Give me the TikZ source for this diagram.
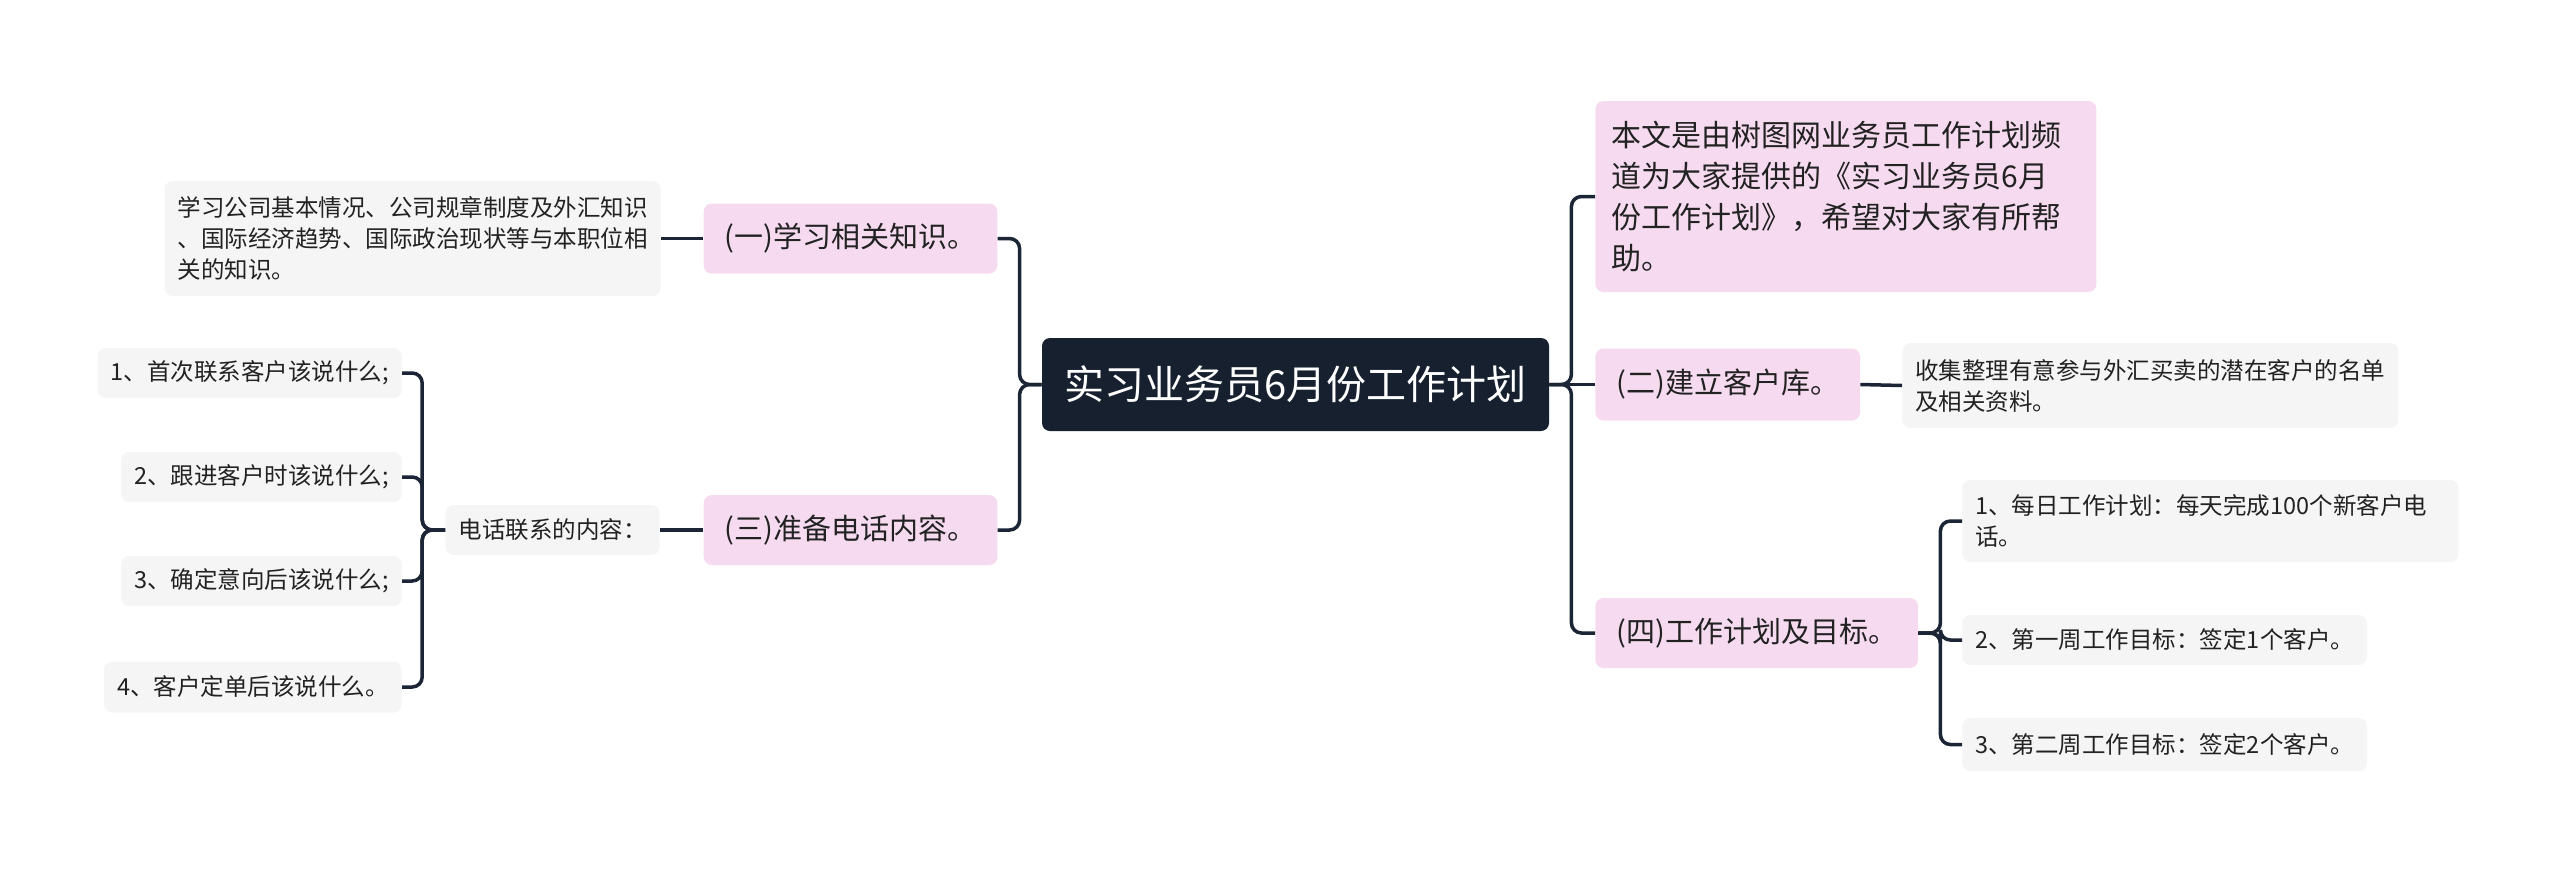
\documentclass[tikz,border=0pt]{standalone}
\usepackage{fontspec}
\setmainfont{Noto Sans CJK SC}
\definecolor{rootc}{HTML}{16202F}
\definecolor{pinkc}{HTML}{F6DBF0}
\definecolor{leafc}{HTML}{F5F5F5}
\definecolor{linec}{HTML}{1B2535}
\definecolor{txt}{HTML}{222222}
\begin{document}
\begin{tikzpicture}[x=0.5pt,y=-0.5pt,
  base/.style={inner ysep=0pt, text=txt, align=left},
  rootbox/.style={base, fill=rootc, text=white, rounded corners=4pt, align=center,
    font=\fontsize{20pt}{24pt}\selectfont, minimum width=253.5pt, minimum height=46.5pt},
  topic/.style={base, fill=pinkc, rounded corners=4pt, inner xsep=10.5pt,
    font=\fontsize{14.5pt}{20.5pt}\selectfont, minimum height=35pt},
  leaf/.style={base, fill=leafc, rounded corners=4pt, inner xsep=6.5pt,
    font=\fontsize{11.75pt}{15.5pt}\selectfont, minimum height=25pt},
  conn/.style={draw=linec, line width=1.75pt, rounded corners=5pt}]
\useasboundingbox (0,0) rectangle (2560,874);

% root
\node[rootbox] (root) at (1295.5,384.5) {实习业务员6月份工作计划};

% left side
\node[topic, minimum width=145.5pt] (t1) at (850.5,238.5) {(一)学习相关知识。};
\node[leaf, anchor=east, minimum height=57.5pt] (l1) at (661,238.5)
  {学习公司基本情况、公司规章制度及外汇知识\\、国际经济趋势、国际政治现状等与本职位相\\关的知识。};
\node[topic, minimum width=145.5pt] (t3) at (850.5,530) {(三)准备电话内容。};
\node[leaf, anchor=east] (ph) at (660,530) {电话联系的内容：};
\node[leaf, anchor=east] (p1) at (402,373) {1、首次联系客户该说什么;};
\node[leaf, anchor=east] (p2) at (402,477) {2、跟进客户时该说什么;};
\node[leaf, anchor=east] (p3) at (402,581) {3、确定意向后该说什么;};
\node[leaf, anchor=east, minimum height=25.5pt] (p4) at (402,687) {4、客户定单后该说什么。};

% right side
\node[topic, anchor=west, inner xsep=8pt, text width=234.5pt, minimum height=95.5pt,
  font=\fontsize{15pt}{20.5pt}\selectfont] (t0) at (1595,196.5)
  {本文是由树图网业务员工作计划频\\道为大家提供的《实习业务员6月\\份工作计划》，希望对大家有所帮\\助。};
\node[topic, anchor=west, minimum height=36pt] (t2) at (1595,384.5) {(二)建立客户库。};
\node[leaf, anchor=west, minimum height=42.5pt] (l2) at (1902,385.5)
  {收集整理有意参与外汇买卖的潜在客户的名单\\及相关资料。};
\node[topic, anchor=west] (t4) at (1595,633) {(四)工作计划及目标。};
\node[leaf, anchor=west, text width=235pt, minimum height=41pt] (r1) at (1962,521)
  {1、每日工作计划：每天完成100个新客户电\\话。};
\node[leaf, anchor=west] (r2) at (1962,640) {2、第一周工作目标：签定1个客户。};
\node[leaf, anchor=west, minimum height=26.5pt] (r3) at (1962,744.5) {3、第二周工作目标：签定2个客户。};

% connectors
\draw[conn] (root.west) -- ++(-22,0) |- (t1.east);
\draw[conn] (root.west) -- ++(-22,0) |- (t3.east);
\draw[conn] (t1.west) -- (l1.east);
\draw[conn] (t3.west) -- (ph.east);
\foreach \c in {p1,p2,p3,p4} \draw[conn] (ph.west) -- ++(-23,0) |- (\c.east);

\draw[conn] (root.east) -- ++(22,0) |- (t0.west);
\draw[conn] (root.east) -- (t2.west);
\draw[conn] (root.east) -- ++(22,0) |- (t4.west);
\draw[conn] (t2.east) -- (l2.west);
\foreach \c in {r1,r2,r3} \draw[conn] (t4.east) -- ++(22,0) |- (\c.west);
\end{tikzpicture}
\end{document}
